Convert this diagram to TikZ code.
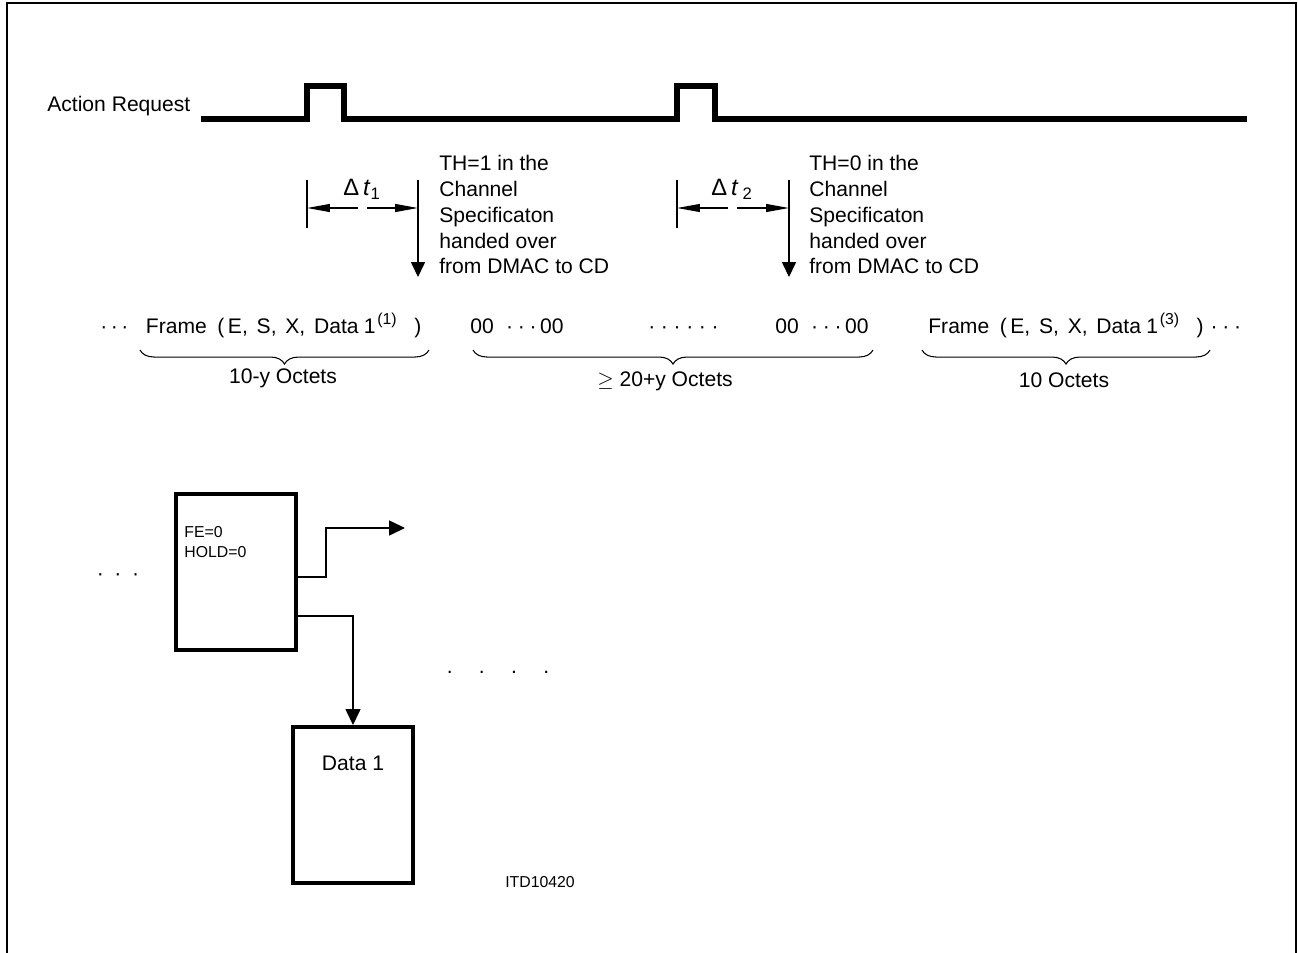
\documentclass[tikz,border=0pt]{standalone}
\usepackage{fontspec}
\setmainfont{Liberation Sans}
\usetikzlibrary{arrows.meta,decorations.pathreplacing,positioning}

\newcommand{\octsup}[1]{\hspace{1pt}\raisebox{5pt}{\fontsize{9}{9}\selectfont(#1)}}

\tikzset{
    txt/.style={inner sep=0pt,font=\fontsize{12}{14.7}\selectfont},
    small/.style={inner sep=0pt,font=\fontsize{9}{11.3}\selectfont},
    wave/.style={line width=3pt},
    thinline/.style={line width=0.7pt},
    block/.style={draw,line width=2.3pt,minimum width=2.4cm,minimum height=3.12cm},
    dimarrow/.style={thinline,-{Triangle[length=13pt,width=4.5pt]}},
    handover/.style={thinline,-{Triangle[length=8.5pt,width=8pt]}},
    flow/.style={thinline,-{Triangle[length=9pt,width=8.5pt]}},
    octbrace/.style={decorate,decoration={brace,mirror,amplitude=8pt},line width=0.6pt}
}

\begin{document}
\begin{tikzpicture}[x=0.02cm,y=-0.02cm]
    \useasboundingbox (0,0) rectangle (1298,953);

    % Rahmen
    \draw[line width=1.6pt] (7,953) |- (1296,3) -- (1296,953);

    % Action Request
    \node[txt,anchor=base west] (actreq) at (47,112) {Action Request};
    \draw[wave] (201,119) -- (307,119) -- (307,86) -- (344,86) -- (344,119)
        -- (677,119) -- (677,86) -- (715,86) -- (715,119) -- (1247,119);

    % Delta t1
    \coordinate (t1a) at (307,208);
    \coordinate (t1b) at (418,208);
    \draw[thinline] (307,180) -- (307,228);
    \draw[dimarrow] (358,208) -- (t1a);
    \draw[dimarrow] (367,208) -- (t1b);
    \draw[handover] (418,180) -- (418,277);
    \node[txt,font=\fontsize{13.5}{14}\selectfont] (dt1) at (362,189) {Δ\,\textit{t}\textsubscript{1}};
    \node[txt,anchor=north west,align=left] (th1) at (439,155)
        {TH=1 in the\\Channel\\Specificaton\\handed over\\from DMAC to CD};

    % Delta t2
    \coordinate (t2a) at (677,208);
    \coordinate (t2b) at (789,208);
    \draw[thinline] (677,180) -- (677,228);
    \draw[dimarrow] (728,208) -- (t2a);
    \draw[dimarrow] (737,208) -- (t2b);
    \draw[handover] (789,180) -- (789,277);
    \node[txt,font=\fontsize{13.5}{14}\selectfont] (dt2) at (732,189) {Δ\,\textit{t}\,\textsubscript{2}};
    \node[txt,anchor=north west,align=left] (th0) at (809,155)
        {TH=0 in the\\Channel\\Specificaton\\handed over\\from DMAC to CD};

    % Oktettfolge
    \node[txt,anchor=base west] (frm1) at (100,333)
        {·\,·\,·\hspace{10pt}Frame\hspace{6pt}(\hspace{2pt}E,\hspace{5pt}S,\hspace{5pt}X,\hspace{5pt}Data\hspace{3pt}1\octsup{1}\hspace{10pt})};
    \node[txt,anchor=base west] (zz1) at (470,333) {00\hspace{7pt}·\hspace{2.7pt}·\hspace{2.7pt}·\hspace{2pt}00};
    \node[txt,anchor=base west] (gap) at (648,333)
        {·\hspace{3.2pt}·\hspace{3.2pt}·\hspace{3.2pt}·\hspace{3.2pt}·\hspace{3.2pt}·};
    \node[txt,anchor=base west] (zz2) at (775,333) {00\hspace{7pt}·\hspace{2.7pt}·\hspace{2.7pt}·\hspace{2pt}00};
    \node[txt,anchor=base west] (frm3) at (928,333)
        {Frame\hspace{6pt}(\hspace{2pt}E,\hspace{5pt}S,\hspace{5pt}X,\hspace{5pt}Data\hspace{3pt}1\octsup{3}\hspace{10pt})\hspace{4pt}·\hspace{2.7pt}·\hspace{2.7pt}·};

    \draw[octbrace] (140,350) -- (429,350);
    \draw[octbrace] (473,350) -- (873,350);
    \draw[octbrace] (922,350) -- (1210,350);
    \node[txt] (oct1) at (283,378) {10-y Octets};
    \node[txt] (oct2) at (665,381) {$\geq$ 20+y Octets};
    \node[txt] (oct3) at (1064,380) {10 Octets};

    % Deskriptoren
    \node[txt] (ldots) at (118,577) {·\hspace{6pt}·\hspace{6pt}·};
    \node[block] (ctrl) at (236,572) {};
    \node[small,anchor=north west,align=left] (ctrltxt) at (184,526) {FE=0\\HOLD=0};
    \node[block] (data) at (353,805) {};
    \node[txt] (datatxt) at (353,763) {Data 1};
    \coordinate (nxt) at (405,528);
    \draw[flow] ([yshift=-2.8pt]ctrl.east) -| (326,528) -- (nxt);
    \draw[flow] ([yshift=-25pt]ctrl.east) -| (data.north);
    \node[txt] (rdots) at (498,672) {.\hspace{15pt}.\hspace{15pt}.\hspace{15pt}.};

    \node[small] (itd) at (540,882) {ITD10420};
\end{tikzpicture}
\end{document}
